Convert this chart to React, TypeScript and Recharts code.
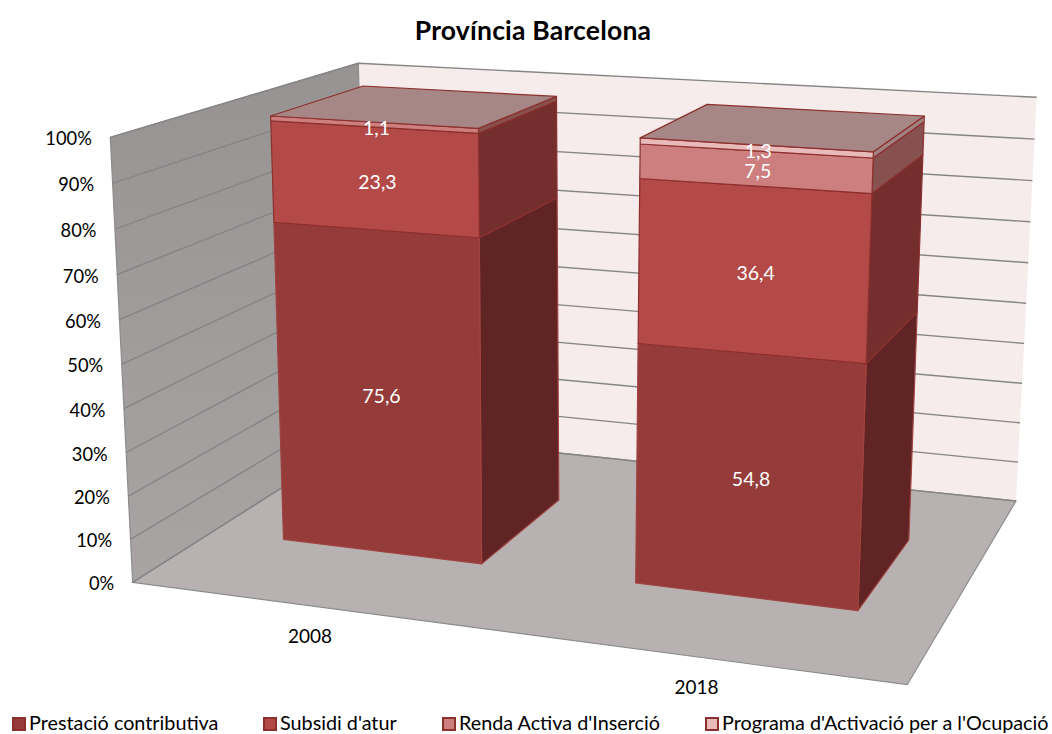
import { BarChart, Bar, XAxis, YAxis, CartesianGrid, Legend, LabelList } from 'recharts'

const YEARS = ['2008', '2018']
const PRESTACIO = [75.6, 54.8]
const SUBSIDI = [23.3, 36.4]
const RENDA = [1.1, 7.5]
const PROGRAMA = [null, 1.3]
const Y_TICKS = [0, 10, 20, 30, 40, 50, 60, 70, 80, 90, 100]

const SERIES = [
  { name: 'Prestació contributiva', values: PRESTACIO, front: '#953B3A', side: '#5F2423', stroke: '#A0423F' },
  { name: "Subsidi d'atur", values: SUBSIDI, front: '#B34A47', side: '#732E2D', stroke: '#8C2F2D' },
  { name: "Renda Activa d'Inserció", values: RENDA, front: '#CC7F7E', side: '#86514F', stroke: '#8C2F2D' },
  { name: "Programa d'Activació per a l'Ocupació", values: PROGRAMA, front: '#E8BBBA', side: '#A08080', stroke: '#8C2F2D' },
]
const LEGEND_LEFT = [12, 263, 442, 705]

const data = YEARS.map((year, i) => {
  const row: Record<string, string | number | null> = { year }
  SERIES.forEach((s) => (row[s.name] = s.values[i]))
  return row
})

const FONT = 'Lato, Carlito, sans-serif'
const PLOT_LEFT = 133
const PLOT_WIDTH = 774
const PLOT_TOP = 138
const PLOT_BOTTOM = 582
const PLOT_HEIGHT = PLOT_BOTTOM - PLOT_TOP

type Pt = [number, number]
const lerp = (a: Pt, b: Pt, t: number): Pt => [a[0] + (b[0] - a[0]) * t, a[1] + (b[1] - a[1]) * t]
const str = (pts: Pt[]) => pts.map((p) => `${p[0].toFixed(1)},${p[1].toFixed(1)}`).join(' ')

// the picture is a 3D excel chart, so flat recharts coords get projected onto these planes
const FRONT = { b0: [213.8, 530.6] as Pt, b1: [943.5, 621.3] as Pt, t0: [197.5, 111.7] as Pt, t1: [963.2, 157.1] as Pt }
const BACK = { b0: [309.7, 471.5] as Pt, b1: [988.4, 549.1] as Pt, t0: [294.8, 82.4] as Pt, t1: [1008, 120.5] as Pt }

// room corners
const A: Pt = [132.7, 582.3]
const A2: Pt = [110.3, 137.3]
const B: Pt = [907.3, 684.7]
const C: Pt = [1016, 501]
const C2: Pt = [1036.7, 97.3]
const D: Pt = [368, 433]
const D2: Pt = [358.3, 63.3]

const warpU = (u: number) => (0.8912 * u) / (1 - 0.1088 * u)
const warpV = (v: number) => v - 0.04 * v * (1 - v)

function project(plane: typeof FRONT, u: number, v: number): Pt {
  const t = warpU(u)
  return lerp(lerp(plane.b0, plane.b1, t), lerp(plane.t0, plane.t1, t), warpV(v))
}

const toU = (x: number) => (x - PLOT_LEFT) / PLOT_WIDTH
const toV = (y: number) => (PLOT_BOTTOM - y) / PLOT_HEIGHT

function makeShape(s: (typeof SERIES)[number]) {
  return function Block(props: any) {
    const { x, y, width, height } = props
    if (!height || !Number.isFinite(y)) return null
    const u1 = toU(x)
    const u2 = toU(x + width)
    const v1 = toV(y + height)
    const v2 = toV(y)
    const sw = 1.2
    return (
      <g strokeLinejoin="round">
        <polygon
          points={str([project(FRONT, u2, v1), project(BACK, u2, v1), project(BACK, u2, v2), project(FRONT, u2, v2)])}
          fill={s.side}
          stroke={s.stroke}
          strokeWidth={sw}
        />
        <polygon
          points={str([project(FRONT, u1, v1), project(FRONT, u2, v1), project(FRONT, u2, v2), project(FRONT, u1, v2)])}
          fill={s.front}
          stroke={s.stroke}
          strokeWidth={sw}
        />
        {v2 > 0.999 && (
          <polygon
            points={str([project(FRONT, u1, v2), project(FRONT, u2, v2), project(BACK, u2, v2), project(BACK, u1, v2)])}
            fill="#A78785"
            stroke={s.stroke}
            strokeWidth={sw}
          />
        )}
      </g>
    )
  }
}

function BlockLabel(props: any) {
  const box = props.viewBox ?? props
  if (props.value == null || !box.height) return null
  const [px, py] = project(FRONT, toU(box.x + box.width / 2), toV(box.y + box.height / 2))
  return (
    <text x={px + 3.5} y={py + 2.5} fill="#fff" fontSize={19.5} fontFamily={FONT} textAnchor="middle" dominantBaseline="central">
      {String(props.value).replace('.', ',')}
    </text>
  )
}

function YTick({ y, payload }: any) {
  const [px, py] = lerp(A, A2, warpV(toV(y)))
  return (
    <text x={px - 18.5} y={py + 1} fill="#000" fontSize={18.3} fontFamily={FONT} textAnchor="end" dominantBaseline="central">
      {payload.value}%
    </text>
  )
}

function XTick({ x, payload }: any) {
  const [px, py] = lerp(A, B, warpU(toU(x)))
  return (
    <text x={px} y={py + 30} fill="#000" fontSize={19} fontFamily={FONT} textAnchor="middle" dominantBaseline="central">
      {payload.value}
    </text>
  )
}

// one gridline across left wall and back wall
function GridLine(props: any) {
  const v = warpV(toV(props.y1))
  return (
    <polyline
      key={props.key}
      points={str([lerp(A, A2, v), lerp(D, D2, v), lerp(C, C2, v)])}
      fill="none"
      stroke="#858585"
      strokeWidth={1.4}
    />
  )
}

function LegendRow({ payload }: any) {
  return (
    <div style={{ position: 'relative', height: 30, width: 1052, fontFamily: FONT, fontSize: 19.8, color: '#000' }}>
      {(payload ?? []).map((item: any, i: number) => (
        <div key={item.value} style={{ position: 'absolute', left: LEGEND_LEFT[i], top: 7, whiteSpace: 'nowrap', lineHeight: '22px' }}>
          <span
            style={{
              display: 'inline-block',
              boxSizing: 'border-box',
              width: 14,
              height: 14,
              marginRight: 3,
              verticalAlign: -1,
              background: item.color,
              border: '2px solid #8C302E',
            }}
          />
          {item.value}
        </div>
      ))}
    </div>
  )
}

export default function App() {
  return (
    <div style={{ position: 'absolute', left: 0, top: 0, width: 1052, height: 734, background: '#fff' }}>
      <svg width={1052} height={734} style={{ position: 'absolute', left: 0, top: 0 }}>
        <defs>
          <linearGradient id="leftWall" x1="0" y1="0" x2="0" y2="1">
            <stop offset="0%" stopColor="#989393" />
            <stop offset="100%" stopColor="#A9A4A4" />
          </linearGradient>
        </defs>
        <polygon points={str([D2, C2, C, D])} fill="#F6ECEC" />
        <polygon points={str([A, B, C, D])} fill="#B8B1B1" stroke="#8C8C8C" strokeWidth={1.2} />
        <polygon points={str([A2, D2, D, A])} fill="url(#leftWall)" stroke="#8C8C8C" strokeWidth={1.2} />
        <text x={533} y={30} fontFamily={FONT} fontSize={26.5} fontWeight={700} letterSpacing={0.2} textAnchor="middle" dominantBaseline="central">
          Província Barcelona
        </text>
      </svg>
      <div style={{ position: 'absolute', left: 0, top: 0 }}>
        <BarChart
          width={1052}
          height={734}
          data={data}
          margin={{ top: PLOT_TOP, right: 1052 - PLOT_LEFT - PLOT_WIDTH, bottom: 0, left: 0 }}
          barCategoryGap="21.2%"
        >
          <CartesianGrid vertical={false} horizontal={GridLine} stroke="#858585" />
          <XAxis dataKey="year" height={122} axisLine={false} tickLine={false} tick={XTick} interval={0} />
          <YAxis
            width={PLOT_LEFT}
            domain={[0, 100]}
            ticks={Y_TICKS}
            axisLine={false}
            tickLine={false}
            tick={YTick}
            interval={0}
          />
          <Legend
            height={30}
            verticalAlign="bottom"
            itemSorter={null}
            content={LegendRow}
            wrapperStyle={{ left: 0, bottom: 0, width: 1052 }}
          />
          {SERIES.map((s) => (
            <Bar key={s.name} dataKey={s.name} stackId="a" fill={s.front} shape={makeShape(s)} isAnimationActive={false}>
              <LabelList dataKey={s.name} content={BlockLabel} />
            </Bar>
          ))}
        </BarChart>
      </div>
    </div>
  )
}
